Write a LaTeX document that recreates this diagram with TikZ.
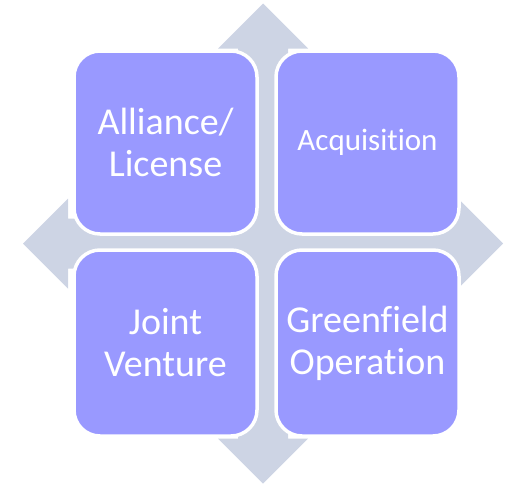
\documentclass[tikz,border=0pt]{standalone}
\usepackage{fontspec}
\setmainfont{Carlito}[Ligatures={NoCommon}, RawFeature={-liga;-clig}]
\definecolor{arrowgrey}{HTML}{CDD4E4}
\definecolor{boxpurple}{HTML}{9999FF}
\begin{document}
\begin{tikzpicture}[x=1pt,y=-1pt,
  cell/.style={draw=white, line width=3.5pt, fill=boxpurple, rounded corners=26pt,
    minimum width=183pt, inner sep=0pt, outer sep=0pt, text=white, align=center,
    font=\fontsize{38}{42}\selectfont},
  bigarrow/.style={fill=arrowgrey, draw=none}]
\useasboundingbox (0,0) rectangle (506,485);
% four-way arrow background
\fill[bigarrow] (263,3.5) -- (308,48.5) -- (288,48.5) -- (288,218.5) -- (458,218.5) -- (458,198.5)
  -- (503,243.5) -- (458,288.5) -- (458,268.5) -- (288,268.5) -- (288,438.5) -- (308,438.5)
  -- (263,483.5) -- (218,438.5) -- (238,438.5) -- (238,268.5) -- (68,268.5) -- (68,288.5)
  -- (23,243.5) -- (68,198.5) -- (68,218.5) -- (238,218.5) -- (238,48.5) -- (218,48.5) -- cycle;
% boxes
\node[cell, minimum height=183pt] (tl) at (165.5,142.5) {Alliance/\\License};
\node[cell, minimum height=183pt, font=\fontsize{31}{35}\selectfont] (tr) at (367.5,142.5) {Acquisition};
\node[cell, minimum height=186pt] (bl) at (165.5,343) {Joint\\Venture};
\node[cell, minimum height=186pt] (br) at (367.5,343) {Greenfield\\Operation};
\end{tikzpicture}
\end{document}
